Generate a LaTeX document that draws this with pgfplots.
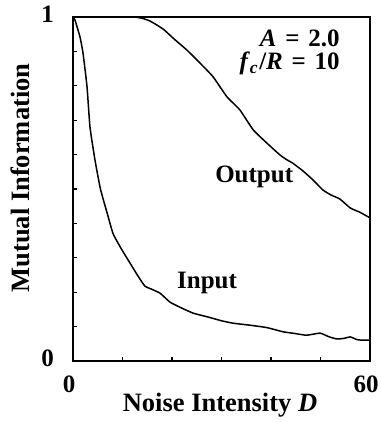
\documentclass[border=0pt]{standalone}
\usepackage{fontspec}
\setmainfont{Liberation Serif}
\usepackage{pgfplots}
\pgfplotsset{compat=1.18}
\begin{document}
\begin{tikzpicture}
\begin{axis}[
  scale only axis,
  width=297pt, height=344pt,
  xmin=0, xmax=60, ymin=0, ymax=1,
  clip=false,
  axis line style={line width=1.8pt},
  font=\fontsize{25}{30}\selectfont\bfseries,
  /pgf/number format/assume math mode=true,
  xtick={0,60}, ytick={0,1},
  minor xtick={10,20,30,40,50},
  minor ytick={0.1,0.2,0.3,0.4,0.5,0.6,0.7,0.8,0.9},
  tick pos=left,
  tick align=inside,
  major tick length=4pt, minor tick length=4pt,
  every tick/.style={line width=1.2pt, black},
  xticklabel style={anchor=base, yshift=-31pt, xshift=-4pt},
  yticklabel style={anchor=center, xshift=-25.5pt, yshift=3pt},
  every axis x label/.style={at={(axis description cs:0.495,-0.148)}, anchor=base, font=\fontsize{26.5}{30}\selectfont\bfseries},
  every axis y label/.style={at={(axis description cs:-0.178,0.532)}, rotate=90, anchor=center, font=\fontsize{26.5}{30}\selectfont\bfseries},
  xlabel={Noise Intensity \textit{D}},
  ylabel={Mutual Information},
]
\addplot[black, line width=1.5pt, smooth, tension=0.3] coordinates {
(0,1.0) (0.4,0.991) (1.41,0.942) (2.02,0.895) (2.83,0.797) (3.43,0.680)
(4.44,0.584) (5.45,0.506) (6.1,0.47) (6.9,0.43) (8.1,0.37) (9.8,0.325) (11.5,0.285)
(13.0,0.250) (14.5,0.218) (16.0,0.208) (17.6,0.197) (19.6,0.171) (21.8,0.155) (24.3,0.139)
(27.5,0.127) (30.0,0.117) (32.3,0.110) (35.8,0.104) (39.2,0.097) (42.4,0.085)
(44.8,0.080) (47.2,0.075) (49.9,0.081) (51.6,0.071) (53.3,0.064) (54.8,0.066) (56,0.070)
(57.2,0.063) (58,0.061) (60,0.061)
};
\addplot[black, line width=1.5pt, smooth, tension=0.3] coordinates {
(0,1.0) (5,1.0) (10,1.0) (12.5,1.0) (14,0.996) (15.6,0.988) (18.2,0.965) (20.5,0.935)
(23,0.904) (25.8,0.864) (28.3,0.826) (31.1,0.768) (33.7,0.73) (36.4,0.672)
(39.2,0.633) (41.8,0.599) (43.2,0.585) (44.4,0.575) (46.5,0.552) (48.5,0.526)
(50.5,0.497) (52.2,0.482) (53.9,0.471) (56,0.445) (58,0.432) (60,0.416)
};
\node[anchor=base east, inner sep=0pt] at (axis cs:53.9,0.913) {\textit{A}\hspace{2.5pt} = \hspace{2.5pt}2.0};
\node[anchor=base east, inner sep=0pt] at (axis cs:53.9,0.846) {\textit{f}\textsubscript{\textit{c}}\hspace{1pt}/\textit{R}\hspace{2.5pt} = \hspace{2.5pt}10};
\node[anchor=base west, inner sep=0pt] at (axis cs:28.7,0.520) {Output};
\node[anchor=base west, inner sep=0pt] at (axis cs:21.0,0.212) {Input};
\coordinate (bbsw) at (axis cs:-14.75,-0.1773);
\coordinate (bbne) at (axis cs:62.02,1.0494);
\end{axis}
\pgfresetboundingbox
\path (bbsw) rectangle (bbne);
\end{tikzpicture}
\end{document}
